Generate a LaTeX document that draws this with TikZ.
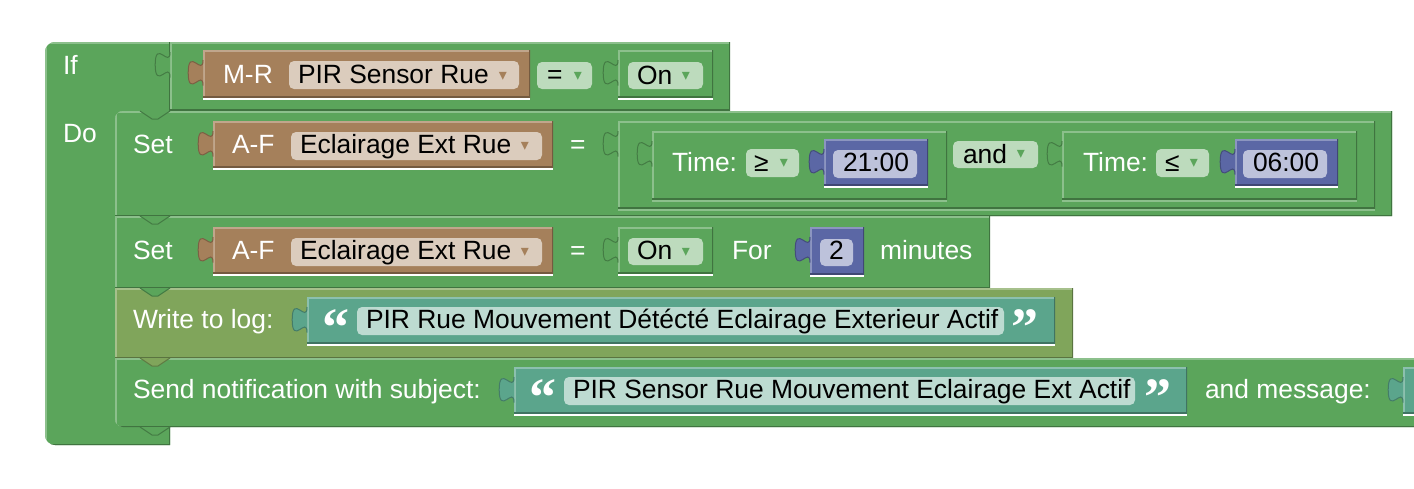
\documentclass[tikz,border=0pt]{standalone}
\usepackage{fontspec}
\setmainfont{Liberation Sans}
\newfontfamily\arrowfont{DejaVu Sans}
\newfontfamily\quotefont{Liberation Serif}

\definecolor{blockgreen}{HTML}{5BA55B}
\definecolor{blockbrown}{HTML}{A5805B}
\definecolor{blockblue}{HTML}{5B67A5}
\definecolor{blockteal}{HTML}{5BA58C}
\definecolor{blockolive}{HTML}{80A55B}

\begin{document}
\begin{tikzpicture}[
    x=1pt, y=-1pt,
    every node/.style={inner sep=0pt, outer sep=0pt},
    blk/.style={
        fill=#1,
        path picture={
            \draw[#1!70!white, line width=3pt]
                (path picture bounding box.south west) |- (path picture bounding box.north east);
            \draw[#1!70!black, line width=3pt]
                (path picture bounding box.south west) -| (path picture bounding box.north east);
        }
    },
    valblock/.style={
        blk=#1,
        rectangle,
        anchor=north west
    },
    pill/.style={
        rectangle,
        rounded corners=5pt,
        fill=#1!40!white,
        anchor=north west,
        minimum height=28pt
    },
    lbl/.style={
        text=white,
        anchor=base west,
        font=\fontsize{26.4}{30}\selectfont
    },
    txt/.style={
        text=black,
        anchor=base west,
        font=\fontsize{26.4}{30}\selectfont
    },
    ddm/.style={
        text=#1,
        font=\arrowfont\fontsize{16}{16}\selectfont
    },
    quot/.style={
        text=white,
        anchor=north,
        font=\quotefont\bfseries\fontsize{54}{54}\selectfont
    },
    tabfill/.style={
        fill=#1,
        draw=#1!75!black,
        line width=1pt
    },
    under/.style={
        draw=#1,
        line width=2pt
    },
    under/.default=white,
    vtab/.pic={
        \path[pic actions] (0,10) .. controls (0,27) and (-14.8,-3.6) .. (-14.8,22.75)
            .. controls (-14.8,49.1) and (0,18.5) .. (0,35.5);
    },
    snotch/.pic={
        \path[pic actions] (-15,0) -- (-3,8) -- (3,8) -- (15,0);
    }
]

\useasboundingbox (0,0) rectangle (1414,488);
\clip (0,0) rectangle (1414,488);
\fill[white] (0,0) rectangle (1414,488);

% ------------------------------------------------
% If / Do frame and statement blocks
% ------------------------------------------------

\path[blk=blockgreen] (170,42) -- (55,42) .. controls (49.5,42) and (45,46.5) .. (45,52)
    -- (45,435) .. controls (45,440.5) and (49.5,445) .. (55,445) -- (170,445) -- (170,427)
    -- (123,427) .. controls (118.6,427) and (115,423.4) .. (115,419)
    -- (115,119) .. controls (115,114.6) and (118.6,111) .. (123,111) -- (170,111) -- cycle;

\path[blk=blockgreen] (115,216) -- (115,119) .. controls (115,114.6) and (118.6,111) .. (123,111)
    -- (1392,111) -- (1392,216) -- cycle;
\path[blk=blockgreen] (115,216) rectangle (990,288);
\path[blk=blockolive] (115,288) rectangle (1073,358);
\path[blk=blockgreen] (115,358) -- (1430,358) -- (1430,427) -- (123,427)
    .. controls (118.6,427) and (115,423.4) .. (115,419) -- cycle;

\pic[tabfill=blockgreen] at (155,111) {snotch};
\pic[tabfill=blockgreen] at (155,216) {snotch};
\pic[tabfill=blockgreen] at (155,288) {snotch};
\pic[tabfill=blockolive] at (155,358) {snotch};
\pic[tabfill=blockgreen] at (155,427) {snotch};

\node[lbl] (iflbl) at (63,74) {If};
\node[lbl] (dolbl) at (63,142) {Do};

% ------------------------------------------------
% Condition: M-R PIR Sensor Rue = On
% ------------------------------------------------

\node[valblock=blockgreen, minimum width=560pt, minimum height=68pt] (cond) at (170,42) {};
\pic[tabfill=blockgreen] at (170,42) {vtab};

\node[valblock=blockbrown, minimum width=327pt, minimum height=47pt] (mr) at (203,50) {};
\pic[tabfill=blockbrown] at (203,50) {vtab};
\node[lbl] (mrlbl) at (223,83) {M-R};
\node[pill=blockbrown, minimum width=230pt] (mrfield) at (289,61) {};
\node[txt] (mrtext) at (298,83) {PIR Sensor Rue};
\node[ddm=blockbrown] (mrdd) at (503,76) {▾};
\draw[under] ([yshift=-1.5pt]mr.south west) -- ([yshift=-1.5pt]mr.south east);

\node[pill=blockgreen, minimum width=55pt, minimum height=27pt] (eqfield) at (537,62) {};
\node[txt] (eqtext) at (547,83) {=};
\node[ddm=blockgreen] (eqdd) at (578,76) {▾};

\node[valblock=blockgreen, minimum width=95pt, minimum height=47pt] (on1) at (618,50) {};
\pic[tabfill=blockgreen] at (618,50) {vtab};
\node[pill=blockgreen, minimum width=75pt, minimum height=27pt] (on1field) at (628,62) {};
\node[txt] (on1text) at (637,84) {On};
\node[ddm=blockgreen] (on1dd) at (686,76) {▾};
\draw[under] ([yshift=-1.5pt]on1.south west) -- ([yshift=-1.5pt]on1.south east);

% ------------------------------------------------
% Set 1: A-F Eclairage Ext Rue = time window
% ------------------------------------------------

\node[lbl] (set1lbl) at (133,153) {Set};

\node[valblock=blockbrown, minimum width=340pt, minimum height=46pt] (af1) at (213,121) {};
\pic[tabfill=blockbrown] at (213,121) {vtab};
\node[lbl] (af1lbl) at (232,153) {A-F};
\node[pill=blockbrown, minimum width=251pt] (af1field) at (291,132) {};
\node[txt] (af1text) at (300,153) {Eclairage Ext Rue};
\node[ddm=blockbrown] (af1dd) at (525,146) {▾};
\draw[under] ([yshift=-1.5pt]af1.south west) -- ([yshift=-1.5pt]af1.south east);

\node[lbl] (eq1lbl) at (570,153) {=};

\node[valblock=blockgreen, minimum width=757pt, minimum height=87pt] (andb) at (618,121) {};
\pic[tabfill=blockgreen] at (618,121) {vtab};

\node[valblock=blockgreen, minimum width=295pt, minimum height=68pt] (tm1) at (652,131) {};
\pic[tabfill=blockgreen] at (652,131) {vtab};
\node[lbl] (tm1lbl) at (672,171) {Time:};
\node[pill=blockgreen, minimum width=53pt] (gefield) at (746,149) {};
\node[txt] (getext) at (754,171) {≥};
\node[ddm=blockgreen] (gedd) at (784,163) {▾};
\draw[under=blockgreen!70!white] ([yshift=-1.5pt]tm1.south west) -- ([yshift=-1.5pt]tm1.south east);

\node[valblock=blockblue, minimum width=104pt, minimum height=46pt] (t21) at (824,139) {};
\pic[tabfill=blockblue] at (824,139) {vtab};
\node[pill=blockblue, minimum width=84pt] (t21field) at (833,150) {};
\node[txt] (t21text) at (843,171) {21:00};
\draw[under] ([yshift=-1.5pt]t21.south west) -- ([yshift=-1.5pt]t21.south east);

\node[pill=blockgreen, minimum width=85pt, minimum height=27pt] (andfield) at (953,141) {};
\node[txt] (andtext) at (963,163) {and};
\node[ddm=blockgreen] (anddd) at (1021,154) {▾};

\node[valblock=blockgreen, minimum width=295pt, minimum height=68pt] (tm2) at (1062,131) {};
\pic[tabfill=blockgreen] at (1062,131) {vtab};
\node[lbl] (tm2lbl) at (1083,171) {Time:};
\node[pill=blockgreen, minimum width=53pt] (lefield) at (1156,149) {};
\node[txt] (letext) at (1165,171) {≤};
\node[ddm=blockgreen] (ledd) at (1194,163) {▾};
\draw[under=blockgreen!70!white] ([yshift=-1.5pt]tm2.south west) -- ([yshift=-1.5pt]tm2.south east);

\node[valblock=blockblue, minimum width=103pt, minimum height=46pt] (t06) at (1235,139) {};
\pic[tabfill=blockblue] at (1235,139) {vtab};
\node[pill=blockblue, minimum width=84pt] (t06field) at (1243,150) {};
\node[txt] (t06text) at (1253,171) {06:00};
\draw[under] ([yshift=-1.5pt]t06.south west) -- ([yshift=-1.5pt]t06.south east);

\draw[under=blockgreen!70!white] ([yshift=-1.5pt]andb.south west) -- ([yshift=-1.5pt]andb.south east);

% ------------------------------------------------
% Set 2: A-F Eclairage Ext Rue = On for 2 minutes
% ------------------------------------------------

\node[lbl] (set2lbl) at (133,259) {Set};

\node[valblock=blockbrown, minimum width=340pt, minimum height=46pt] (af2) at (213,227) {};
\pic[tabfill=blockbrown] at (213,227) {vtab};
\node[lbl] (af2lbl) at (232,259) {A-F};
\node[pill=blockbrown, minimum width=251pt] (af2field) at (291,238) {};
\node[txt] (af2text) at (300,259) {Eclairage Ext Rue};
\node[ddm=blockbrown] (af2dd) at (525,252) {▾};
\draw[under] ([yshift=-1.5pt]af2.south west) -- ([yshift=-1.5pt]af2.south east);

\node[lbl] (eq2lbl) at (570,259) {=};

\node[valblock=blockgreen, minimum width=95pt, minimum height=46pt] (on2) at (618,227) {};
\pic[tabfill=blockgreen] at (618,227) {vtab};
\node[pill=blockgreen, minimum width=75pt, minimum height=27pt] (on2field) at (628,238) {};
\node[txt] (on2text) at (637,259) {On};
\node[ddm=blockgreen] (on2dd) at (686,252) {▾};
\draw[under] ([yshift=-1.5pt]on2.south west) -- ([yshift=-1.5pt]on2.south east);

\node[lbl] (forlbl) at (732,259) {For};

\node[valblock=blockblue, minimum width=54pt, minimum height=47pt] (num2) at (810,227) {};
\pic[tabfill=blockblue] at (810,227) {vtab};
\node[pill=blockblue, minimum width=33pt, minimum height=27pt] (num2field) at (820,239) {};
\node[txt] (num2text) at (829,259) {2};
\draw[under] ([yshift=-1.5pt]num2.south west) -- ([yshift=-1.5pt]num2.south east);

\node[lbl] (minlbl) at (880,259) {minutes};

% ------------------------------------------------
% Write to log
% ------------------------------------------------

\node[lbl] (loglbl) at (133,328) {Write to log:};

\node[valblock=blockteal, minimum width=748pt, minimum height=46pt] (log) at (307,297) {};
\pic[tabfill=blockteal] at (307,297) {vtab};
\node[quot] (logopen) at (336,310) {“};
\node[pill=blockteal, minimum width=647pt] (logfield) at (357,307) {};
\node[txt] (logtext) at (366,328) {PIR Rue Mouvement Détécté Eclairage Exterieur Actif};
\node[quot] (logclose) at (1025,310) {”};
\draw[under] ([yshift=-1.5pt]log.south west) -- ([yshift=-1.5pt]log.south east);

% ------------------------------------------------
% Send notification
% ------------------------------------------------

\node[lbl] (sendlbl) at (133,398) {Send notification with subject:};

\node[valblock=blockteal, minimum width=673pt, minimum height=46pt] (subj) at (514,367) {};
\pic[tabfill=blockteal] at (514,367) {vtab};
\node[quot] (subjopen) at (543,380) {“};
\node[pill=blockteal, minimum width=571pt] (subjfield) at (564,377) {};
\node[txt] (subjtext) at (573,398) {PIR Sensor Rue Mouvement Eclairage Ext Actif};
\node[quot] (subjclose) at (1158,380) {”};
\draw[under] ([yshift=-1.5pt]subj.south west) -- ([yshift=-1.5pt]subj.south east);

\node[lbl] (msglbl) at (1205,398) {and message:};

\node[valblock=blockteal, minimum width=40pt, minimum height=46pt] (msg) at (1403,367) {};
\pic[tabfill=blockteal] at (1403,367) {vtab};
\draw[under] ([yshift=-1.5pt]msg.south west) -- ([yshift=-1.5pt]msg.south east);

\end{tikzpicture}
\end{document}
